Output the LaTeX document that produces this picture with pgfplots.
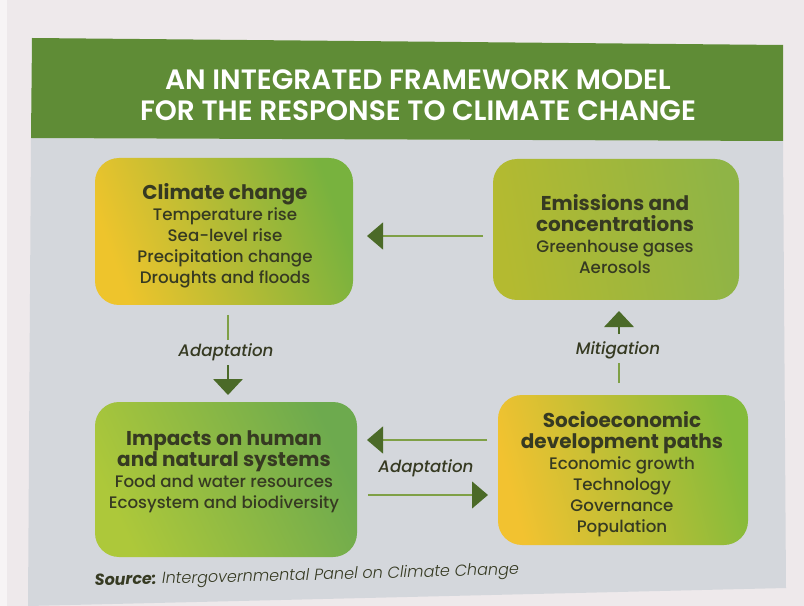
\documentclass[border=0pt]{standalone}
\usepackage{pgfplots}
\pgfplotsset{compat=1.18}
\usetikzlibrary{arrows.meta}
\usepackage{fontspec}
\setmainfont{Poppins}[UprightFont=* Medium, ItalicFont=* Medium Italic, BoldFont=* Bold, BoldItalicFont=* Bold Italic]
\newfontfamily\titlefont{Poppins SemiBold}
\definecolor{pagebg}{HTML}{EEE9EB}
\definecolor{header}{HTML}{5F8C36}
\definecolor{panel}{HTML}{D4D7DC}
\definecolor{txt}{HTML}{363A22}
\definecolor{arrowlight}{HTML}{7FA046}
\definecolor{arrowdark}{HTML}{4B6A28}
\definecolor{yel}{HTML}{EEC42C}
\definecolor{grn}{HTML}{78B23E}
\definecolor{mida}{HTML}{BBC536}
\definecolor{bTwoL}{RGB}{180,186,48}
\definecolor{bTwoR}{RGB}{143,180,70}
\definecolor{bThrL}{RGB}{173,200,58}
\definecolor{bThrR}{RGB}{109,170,78}
\definecolor{bFouL}{RGB}{242,194,48}
\definecolor{bFouM}{RGB}{198,196,54}
\definecolor{bFouR}{RGB}{132,187,59}
\begin{document}
\begin{tikzpicture}
\begin{axis}[scale only axis, width=603pt, height=454.5pt,
  xmin=0, xmax=804, ymin=0, ymax=606, y dir=reverse,
  hide axis, clip=false]
% page, panel, header
\fill[pagebg] (axis cs:0,0) rectangle (axis cs:804,606);
\fill[white!50!pagebg] (axis cs:0,0) rectangle (axis cs:7,606);
\fill[panel] (axis cs:31,138) -- (axis cs:783,141) -- (axis cs:786,588) -- (axis cs:28,606) -- cycle;
\fill[header] (axis cs:32,38) -- (axis cs:783,45) -- (axis cs:783,141) -- (axis cs:31,138) -- cycle;
\node[white, align=center, font=\titlefont\fontsize{21}{23.5}\selectfont] at (axis cs:418,95)
  {AN INTEGRATED FRAMEWORK MODEL\\FOR THE RESPONSE TO CLIMATE CHANGE};
% boxes
\shade[rounded corners=18pt, left color=yel, middle color=mida, right color=grn, shading angle=110]
  (axis cs:95,158) rectangle (axis cs:353,305);
\shade[rounded corners=18pt, left color=bTwoL, right color=bTwoR, shading angle=100]
  (axis cs:493,159) rectangle (axis cs:739,300);
\shade[rounded corners=18pt, left color=bThrL, right color=bThrR, shading angle=115]
  (axis cs:95,402) rectangle (axis cs:357,557);
\shade[rounded corners=18pt, left color=bFouL, middle color=bFouM, right color=bFouR, shading angle=105]
  (axis cs:498,395) rectangle (axis cs:748,545);
% box texts
\node[txt, align=center, font=\fontsize{12.5}{15.75}\selectfont] at (axis cs:225,236)
  {{\bfseries\fontsize{15}{15.75}\selectfont Climate change}\\Temperature rise\\Sea-level rise\\Precipitation change\\Droughts and floods};
\node[txt, align=center, font=\fontsize{12.5}{15.75}\selectfont] at (axis cs:615,234)
  {{\bfseries\fontsize{15}{15.75}\selectfont Emissions and}\\{\bfseries\fontsize{15}{15.75}\selectfont concentrations}\\Greenhouse gases\\Aerosols};
\node[txt, align=center, font=\fontsize{12.5}{15.75}\selectfont] at (axis cs:224,472)
  {{\bfseries\fontsize{15}{15.75}\selectfont Impacts on human}\\{\bfseries\fontsize{15}{15.75}\selectfont and natural systems}\\Food and water resources\\Ecosystem and biodiversity};
\node[txt, align=center, font=\fontsize{12.5}{15.75}\selectfont] at (axis cs:622,474)
  {{\bfseries\fontsize{15}{15.75}\selectfont Socioeconomic}\\{\bfseries\fontsize{15}{15.75}\selectfont development paths}\\Economic growth\\Technology\\Governance\\Population};
% arrows
\addplot[arrowlight, line width=1.8pt, -{Triangle[length=12pt,width=20pt,color=arrowdark]}] coordinates {(483,236) (367,236)};
\addplot[arrowlight, line width=1.8pt] coordinates {(228,315) (228,340)};
\addplot[arrowdark, line width=1.8pt, -{Triangle[length=12pt,width=22pt,color=arrowdark]}] coordinates {(228,365) (228,395)};
\addplot[arrowlight, line width=1.8pt] coordinates {(619,383) (619,363)};
\addplot[arrowdark, line width=1.8pt, -{Triangle[length=12pt,width=22pt,color=arrowdark]}] coordinates {(619,334) (619,311)};
\addplot[arrowlight, line width=1.8pt, -{Triangle[length=12pt,width=20pt,color=arrowdark]}] coordinates {(487,440) (367,440)};
\addplot[arrowlight, line width=1.8pt, -{Triangle[length=12pt,width=20pt,color=arrowdark]}] coordinates {(368,495) (488,495)};
% arrow labels
\node[txt, font=\itshape\fontsize{12.5}{15}\selectfont] at (axis cs:226,352) {Adaptation};
\node[txt, font=\itshape\fontsize{12.5}{15}\selectfont] at (axis cs:618,350) {Mitigation};
\node[txt, font=\itshape\fontsize{12.5}{15}\selectfont] at (axis cs:426,468) {Adaptation};
% source
\node[txt, anchor=west, rotate=1.5, font=\fontsize{12}{14}\selectfont] at (axis cs:90,582)
  {\textbf{\itshape Source:} {\fontspec{Poppins Light Italic}Intergovernmental Panel on Climate Change}};
\end{axis}
\end{tikzpicture}
\end{document}
